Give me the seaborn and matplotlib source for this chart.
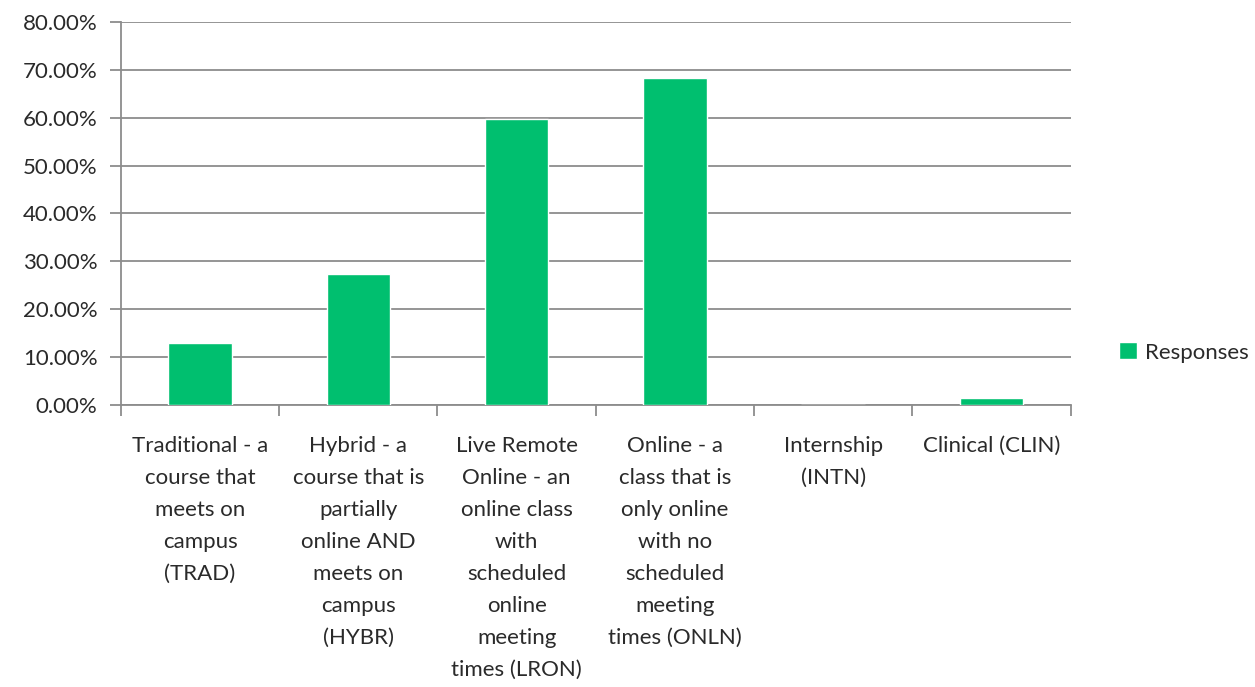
import numpy as np
import pandas as pd
import matplotlib
matplotlib.use("Agg")
import matplotlib.pyplot as plt
import seaborn as sns
from matplotlib.ticker import PercentFormatter, FixedLocator

# data
categories = [
    "Traditional - a\ncourse that\nmeets on\ncampus\n(TRAD)",
    "Hybrid - a\ncourse that is\npartially\nonline AND\nmeets on\ncampus\n(HYBR)",
    "Live Remote\nOnline - an\nonline class\nwith\nscheduled\nonline\nmeeting\ntimes (LRON)",
    "Online - a\nclass that is\nonly online\nwith no\nscheduled\nmeeting\ntimes (ONLN)",
    "Internship\n(INTN)",
    "Clinical (CLIN)",
]
responses = [13.0, 27.3, 59.7, 68.2, 0.0, 1.4]
yticks = [0, 10, 20, 30, 40, 50, 60, 70, 80]

green = "#00BF6F"
gridc = "#8c8c8c"
textc = "#2a2a2a"
fs = 16

sns.set_style("white")
plt.rcParams["font.family"] = ["Lato", "DejaVu Sans"]

df = pd.DataFrame({"cat": categories, "val": responses})

fig = plt.figure(figsize=(12.55, 6.87), dpi=100)
ax = fig.add_axes([0.0964, 0.4105, 0.7566, 0.5575])

sns.barplot(data=df, x="cat", y="val", color=green, width=0.4,
            saturation=1, label="Responses", ax=ax, zorder=3)

ax.set_ylim(0, 80)
ax.set_xlim(-0.5, len(categories) - 0.5)
ax.yaxis.set_major_locator(FixedLocator(yticks))
ax.yaxis.set_major_formatter(PercentFormatter(decimals=2))
ax.grid(axis="y", color=gridc, linewidth=1.3, zorder=0)
ax.set_axisbelow(True)

for s in ["top", "right"]:
    ax.spines[s].set_visible(False)
for s in ["left", "bottom"]:
    ax.spines[s].set_color(gridc)
    ax.spines[s].set_linewidth(1.3)

ax.set_xlabel("")
ax.set_ylabel("")
ax.tick_params(axis="y", length=8, width=1.3, color=gridc, pad=9,
               labelsize=fs, labelcolor=textc, left=True)
ax.tick_params(axis="x", which="major", length=0, pad=22,
               labelsize=fs, labelcolor=textc)
ax.set_xticks(np.arange(-0.5, len(categories), 1.0), minor=True)
ax.tick_params(axis="x", which="minor", length=8, width=1.3, color=gridc,
               bottom=True)
for lab in ax.get_xticklabels():
    lab.set_horizontalalignment("center")
    lab.set_multialignment("center")
    lab.set_linespacing(1.75)

ax.legend(loc="center left", bbox_to_anchor=(1.03, 0.137), frameon=False,
          fontsize=fs, handlelength=0.8, handleheight=0.8, handletextpad=0.35,
          labelcolor=textc)

fig.savefig("out.png", dpi=100)
